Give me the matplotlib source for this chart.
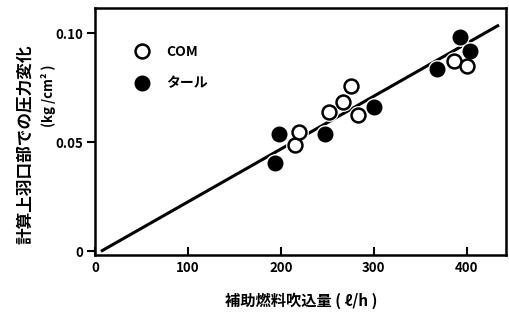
import matplotlib.pyplot as plt
import numpy as np

plt.rcParams['font.family'] = ['Noto Sans CJK JP', 'DejaVu Sans']

# COM (open circles)
com_x = [215.6, 219.2, 252.3, 267.0, 275.7, 282.8, 386.3, 400.8]
com_y = [0.0487, 0.0549, 0.0640, 0.0683, 0.0758, 0.0625, 0.0870, 0.0850]

# タール (filled circles)
tar_x = [193.3, 198.4, 248.0, 300.0, 367.7, 393.5, 403.5]
tar_y = [0.0406, 0.0536, 0.0536, 0.0663, 0.0835, 0.0982, 0.0916]

# fitted line
fit_x = [6.0, 435.0]
fit_y = [0.0, 0.1037]

xticks = [0, 100, 200, 300, 400]
yticks = [0, 0.05, 0.10]
ytick_labels = ['0', '0.05', '0.10']

fig = plt.figure(figsize=(5.1, 3.2), dpi=100)
ax = fig.add_axes([0.187, 0.203, 0.806, 0.772])

ax.plot(fit_x, fit_y, color='black', lw=2.2, solid_capstyle='butt', zorder=1)

# white halo so the line breaks around the circles
ax.plot(com_x + tar_x, com_y + tar_y, 'o', ms=12.5, mfc='white', mec='white', zorder=2)
ax.plot(com_x, com_y, 'o', ms=10, mfc='white', mec='black', mew=1.8, zorder=3, label='COM')
ax.plot(tar_x, tar_y, 'o', ms=10.5, mfc='black', mec='black', mew=1.0, zorder=3, label='タール')

ax.set_xlim(0, 443)
ax.set_ylim(-0.0017, 0.1115)
ax.set_xticks(xticks)
ax.set_xticklabels([str(v) for v in xticks])
ax.set_yticks(yticks)
ax.set_yticklabels(ytick_labels)
ax.tick_params(axis='x', direction='in', length=6, width=1.5, labelsize=9.5, pad=4)
ax.tick_params(axis='y', direction='out', length=6, width=1.5, labelsize=9.5, pad=3)
for lab in ax.get_xticklabels() + ax.get_yticklabels():
    lab.set_fontweight('bold')
for s in ax.spines.values():
    s.set_linewidth(1.8)

leg = ax.legend(loc='upper left', bbox_to_anchor=(0.07, 0.90), frameon=False,
                handlelength=0.8, handletextpad=1.3, labelspacing=1.25,
                prop={'size': 10, 'weight': 'bold'})

ax.set_xlabel('補助燃料吹込量 ( ℓ/h )', fontsize=11, fontweight='bold', labelpad=13)
fig.text(0.05, 0.55, '計算上羽口部での圧力変化', rotation=90, ha='center', va='center',
         fontsize=12, fontweight='bold')
fig.text(0.095, 0.70, '(kg /cm² )', rotation=90, ha='center', va='center',
         fontsize=9.5, fontweight='bold')

fig.savefig('out.png', dpi=100)
